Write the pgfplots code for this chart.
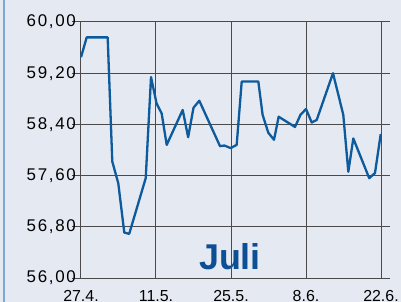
\documentclass[border=0pt]{standalone}
\usepackage{pgfplots}
\pgfplotsset{compat=1.18}
\usepackage{fontspec}
\setmainfont{Liberation Sans}
\definecolor{bg}{HTML}{E4E9F2}
\definecolor{linec}{HTML}{0D5A9C}
\definecolor{julic}{HTML}{0C4F94}
\definecolor{edge}{HTML}{7FA6D6}
\definecolor{gridc}{HTML}{4A4A4A}
\begin{document}
\begin{tikzpicture}
\fill[bg] (-72bp,-24bp) rectangle (329bp,278bp);
\draw[edge, line width=1.5bp] (-68bp,-24bp) -- (-68bp,278bp);
\node[anchor=base, inner sep=0pt, text=julic, font=\fontsize{36}{36}\selectfont\bfseries] at (158bp,9bp) {Juli};
\begin{axis}[
  at={(0,0)}, anchor=south west,
  scale only axis, width=318bp, height=256bp,
  xmin=-1.68, xmax=57.68, ymin=56, ymax=60,
  axis line style={draw=none},
  tick style={draw=none},
  xtick={0,14,28,42,56},
  xticklabels={27.4.,11.5.,25.5.,8.6.,22.6.},
  ytick={56,56.8,57.6,58.4,59.2,60},
  yticklabels={{56,00},{56,80},{57,60},{58,40},{59,20},{60,00}},
  xmajorgrids, ymajorgrids,
  major grid style={gridc, line width=1bp},
  xticklabel style={anchor=north, inner sep=0pt, yshift=-12bp, font=\fontsize{16}{16}\selectfont},
  yticklabel style={anchor=east, inner sep=0pt, xshift=4bp, font=\fontsize{17}{17}\selectfont\addfontfeature{LetterSpace=10}},
  clip=false,
]
\addplot[linec, line width=2.3bp, line join=round] coordinates {
(0,59.45) (1.06,59.76) (4.98,59.76) (5.84,57.82) (6.96,57.48) (8.08,56.71)
(9.0,56.69) (12.08,57.56) (13.07,59.14) (14.1,58.73) (15.06,58.57) (16.0,58.08)
(18.98,58.625) (20.0,58.20) (21.0,58.66) (22.08,58.77) (25.95,58.06) (26.75,58.07)
(27.94,58.03) (29.06,58.08) (30.0,59.07) (33.1,59.07) (33.9,58.55) (34.96,58.27)
(36.03,58.16) (36.9,58.52) (39.95,58.36) (40.97,58.55) (42.0,58.64) (43.07,58.43)
(44.0,58.47) (47.04,59.20) (48.96,58.55) (49.9,57.66) (50.83,58.18) (53.8,57.56)
(54.88,57.64) (55.95,58.25)
};
\end{axis}
\pgfresetboundingbox
\path[use as bounding box] (-72bp,-24bp) rectangle (329bp,278bp);
\end{tikzpicture}
\end{document}
